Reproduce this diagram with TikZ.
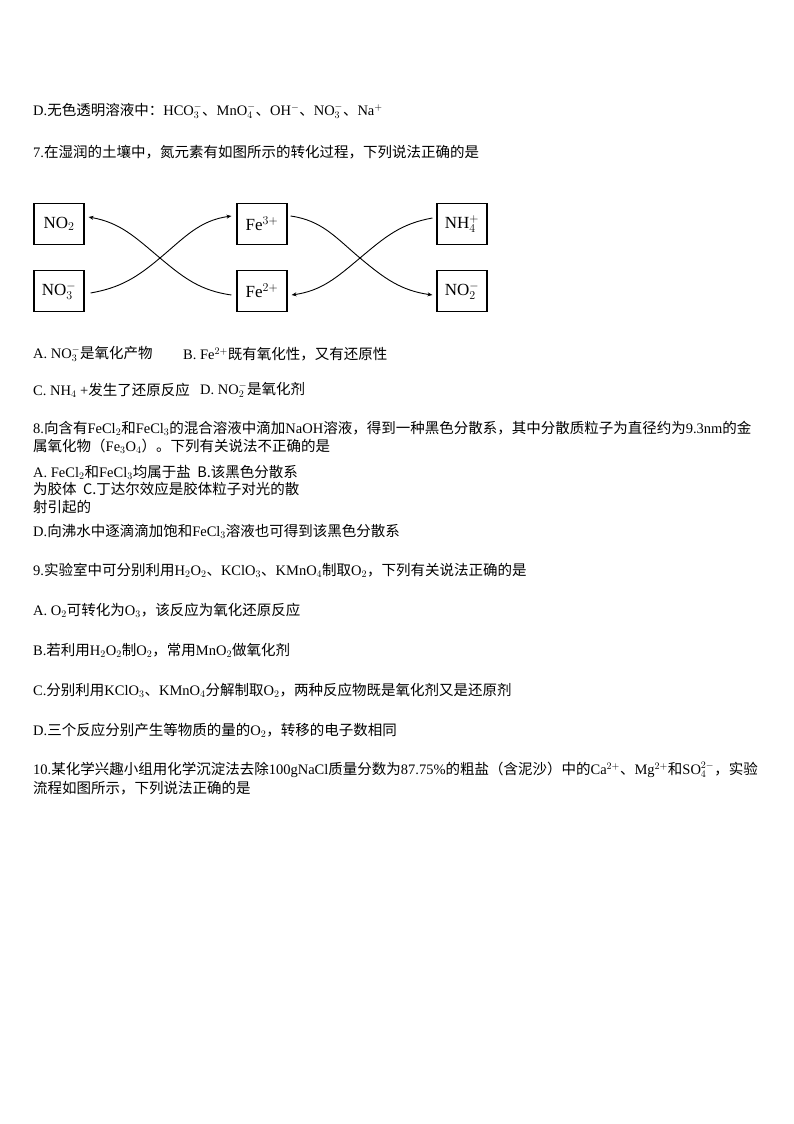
\documentclass[tikz,border=0pt]{standalone}
\usepackage{fontspec}
\setmainfont{Liberation Serif}
\newfontfamily\cjkfont{Noto Sans CJK SC}
\newfontfamily\latfont{Liberation Serif}
\XeTeXinterchartokenstate=1
\newXeTeXintercharclass\cjkclass
\newcount\cc
\cc="4E00 \loop \XeTeXcharclass\cc=\cjkclass \advance\cc 1 \ifnum\cc<"A000 \repeat
\cc="3000 \loop \XeTeXcharclass\cc=\cjkclass \advance\cc 1 \ifnum\cc<"3040 \repeat
\cc="FF00 \loop \XeTeXcharclass\cc=\cjkclass \advance\cc 1 \ifnum\cc<"FFF0 \repeat
\XeTeXinterchartoks 0 \cjkclass = {\cjkfont}
\XeTeXinterchartoks 4095 \cjkclass = {\cjkfont}
\XeTeXinterchartoks \cjkclass 0 = {\latfont}
\usetikzlibrary{arrows.meta}
\begin{document}
\begin{tikzpicture}[x=1pt,y=-1pt,
  txt/.style={anchor=west,inner sep=0pt,font=\fontsize{14.5}{16}\selectfont},
  box/.style={draw,line width=1.1pt,minimum width=50pt,minimum height=41pt,inner sep=0pt,font=\fontsize{17}{18}\selectfont},
  arr/.style={line width=0.9pt,-{Stealth[length=5pt,width=4pt]}}]
\useasboundingbox (0,0) rectangle (794,1124);
\node[txt] (l1) at (33,111) {D.无色透明溶液中：HCO$_3^-$、MnO$_4^-$、OH$^-$、NO$_3^-$、Na$^+$};
\node[txt] (l2) at (33,152) {7.在湿润的土壤中，氮元素有如图所示的转化过程，下列说法正确的是};
\node[box] (no2) at (59,224) {NO$_2$};
\node[box] (no3) at (59,291) {NO$_3^-$};
\node[box] (fe3) at (262,224) {Fe$^{3+}$};
\node[box] (fe2) at (262,291) {Fe$^{2+}$};
\node[box] (nh4) at (462,224) {NH$_4^+$};
\node[box] (no2m) at (462,291) {NO$_2^-$};
\coordinate (c1) at (160,258);
\coordinate (c2) at (360,258);
\draw[arr] ([xshift=6pt,yshift=-2pt]no3.east) to[out=10,in=220] (c1) to[out=40,in=188] ([xshift=-5pt,yshift=8pt]fe3.west);
\draw[arr] ([xshift=-5pt,yshift=-4pt]fe2.west) to[out=172,in=-40] (c1) to[out=140,in=-10] ([xshift=4pt,yshift=7pt]no2.east);
\draw[arr] ([xshift=3pt,yshift=8pt]fe3.east) to[out=-8,in=140] (c2) to[out=-40,in=172] ([xshift=-4pt,yshift=-4pt]no2m.west);
\draw[arr] ([xshift=-4pt,yshift=6pt]nh4.west) to[out=190,in=40] (c2) to[out=220,in=8] ([xshift=4pt,yshift=-4pt]fe2.east);
\node[txt] (l3) at (33,354) {A. NO$_3^-$是氧化产物};
\node[txt] (l3b) at (183,354) {B. Fe$^{2+}$既有氧化性，又有还原性};
\node[txt] (l4) at (33,390) {C. NH$_4$ +发生了还原反应};
\node[txt] (l4b) at (200,390) {D. NO$_2^-$是氧化剂};
\node[txt] (l5) at (33,428) {8.向含有FeCl$_2$和FeCl$_3$的混合溶液中滴加NaOH溶液，得到一种黑色分散系，其中分散质粒子为直径约为9.3nm的金};
\node[txt] (l6) at (33,446) {属氧化物（Fe$_3$O$_4$）。下列有关说法不正确的是};
\node[txt] (l7) at (33,472) {A. FeCl$_2$和FeCl$_3$均属于盐\ \ B.该黑色分散系};
\node[txt] (l8) at (33,489) {为胶体\ \ C.丁达尔效应是胶体粒子对光的散};
\node[txt] (l9) at (33,507) {射引起的};
\node[txt] (l10) at (33,531) {D.向沸水中逐滴滴加饱和FeCl$_3$溶液也可得到该黑色分散系};
\node[txt] (l11) at (33,570) {9.实验室中可分别利用H$_2$O$_2$、KClO$_3$、KMnO$_4$制取O$_2$，下列有关说法正确的是};
\node[txt] (l12) at (33,610) {A. O$_2$可转化为O$_3$，该反应为氧化还原反应};
\node[txt] (l13) at (33,650) {B.若利用H$_2$O$_2$制O$_2$，常用MnO$_2$做氧化剂};
\node[txt] (l14) at (33,690) {C.分别利用KClO$_3$、KMnO$_4$分解制取O$_2$，两种反应物既是氧化剂又是还原剂};
\node[txt] (l15) at (33,730) {D.三个反应分别产生等物质的量的O$_2$，转移的电子数相同};
\node[txt] (l16) at (33,770) {10.某化学兴趣小组用化学沉淀法去除100gNaCl质量分数为87.75\%的粗盐（含泥沙）中的Ca$^{2+}$、Mg$^{2+}$和SO$_4^{2-}$，实验};
\node[txt] (l17) at (33,788) {流程如图所示，下列说法正确的是};
\end{tikzpicture}
\end{document}
